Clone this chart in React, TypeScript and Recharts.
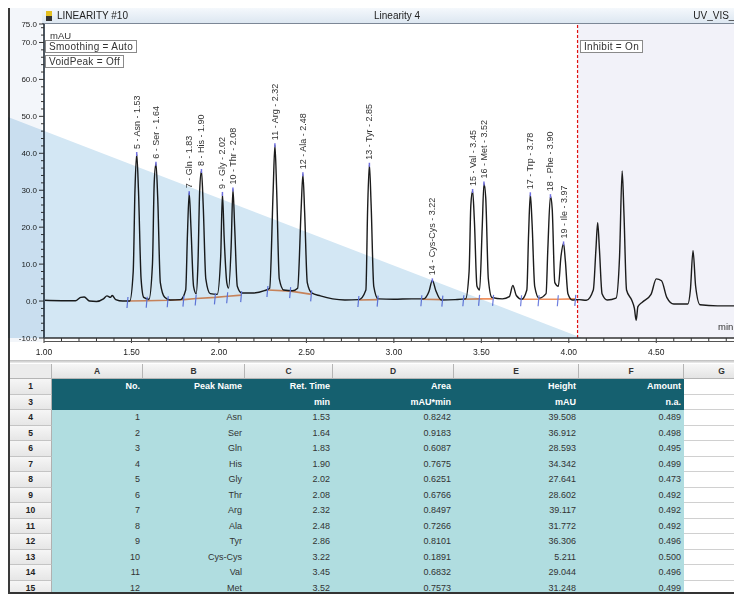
import React from "react"
import { ComposedChart, Line, XAxis, YAxis, ReferenceLine, ReferenceArea, Scatter } from "recharts"

// chromatogram trace (min / mAU)
const traceTime = [
  1.0, 1.1, 1.18, 1.21, 1.23, 1.26, 1.3, 1.34, 1.36, 1.38, 1.39, 1.41, 1.45, 1.49,
  1.51, 1.52, 1.53, 1.54, 1.555, 1.57, 1.6, 1.62, 1.63, 1.64, 1.65, 1.665, 1.69, 1.72,
  1.78, 1.81, 1.82, 1.83, 1.84, 1.855, 1.87, 1.88, 1.89, 1.9, 1.91, 1.925, 1.95, 1.99,
  2.01, 2.02, 2.03, 2.045, 2.055, 2.07, 2.08, 2.09, 2.105, 2.13, 2.2, 2.26, 2.29, 2.31,
  2.32, 2.33, 2.345, 2.37, 2.42, 2.45, 2.47, 2.48, 2.49, 2.505, 2.53, 2.58, 2.65, 2.72,
  2.8, 2.84, 2.85, 2.86, 2.87, 2.885, 2.91, 3.0, 3.1, 3.17, 3.2, 3.22, 3.24, 3.27, 3.35,
  3.41, 3.43, 3.44, 3.45, 3.46, 3.475, 3.49, 3.505, 3.515, 3.525, 3.54, 3.56, 3.62, 3.66,
  3.68, 3.7, 3.73, 3.76, 3.77, 3.78, 3.79, 3.805, 3.83, 3.87, 3.88, 3.895, 3.905, 3.92,
  3.94, 3.955, 3.97, 3.98, 3.995, 4.02, 4.06, 4.1, 4.14, 4.155, 4.165, 4.175, 4.19, 4.22,
  4.27, 4.29, 4.305, 4.315, 4.33, 4.36, 4.375, 4.385, 4.395, 4.42, 4.47, 4.5, 4.53, 4.56,
  4.6, 4.68, 4.695, 4.71, 4.725, 4.75, 4.85, 4.99,
]
const traceMAU = [
  0.2, 0.1, 0.1, 1.0, 1.1, 0.0, -0.1, 0.6, 1.4, 1.0, 1.5, 0.4, 0.0, 0.0,
  8, 30, 39.8, 30, 6, 1, 0.5, 10, 32, 37.2, 28, 5, 1, 0.3,
  0.4, 3, 18, 29.2, 20, 4, 2, 10, 30, 35.2, 26, 6, 2, 1.8,
  12, 29.0, 17, 5, 3.5, 15, 30.2, 20, 4, 2.2, 2.2, 2.8, 3.5, 30,
  42.2, 30, 6, 3.0, 2.8, 3.5, 25, 34.3, 24, 5, 2.2, 1.4, 0.6, 0.3,
  0.4, 3, 25, 36.9, 26, 4, 0.6, 0.5, 0.6, 0.6, 2.5, 5.6, 2.8, 0.3, 0.4,
  0.6, 8, 26, 29.8, 22, 4, 3, 20, 31.8, 28, 6, 1, 0.6, 1.2,
  4.2, 1.5, 0.5, 3, 18, 28.9, 21, 4, 0.8, 2, 14, 28.4, 25, 5,
  4, 12, 15.6, 11, 2, 0.3, 0.4, 0.2, 3, 14, 21.2, 14, 2, 0.3,
  0.8, 12, 35.2, 24, 3, 0.2, -2, -5.2, -1.5, -0.3, 1.8, 6.0, 5.5, 1,
  -0.8, -0.8, 3, 13.6, 4, -1, -1.3, -1.3,
]

// integration baseline segments (null = gap)
const baseTime = [1.48, 1.59, 1.71, 1.8, 1.87, 1.98, 2.05, 2.13, 2.2, 2.28, 2.41, 2.53, 2.6, 2.8, 2.91, 3.0, 3.16, 3.28, 3.34, 3.4, 3.49, 3.57, 3.65, 3.73, 3.83, 3.94, 4.04]
const baseMAU = [0.0, 0.1, 0.2, 0.4, 0.7, 1.0, 1.3, 1.6, null, 3.0, 2.7, 1.8, null, 0.3, 0.4, null, 0.5, 0.4, null, 0.5, 0.6, 0.6, null, 0.5, 0.5, 0.5, 0.6]

// peak annotations
const peakNo = [5, 6, 7, 8, 9, 10, 11, 12, 13, 14, 15, 16, 17, 18, 19]
const peakName = ["Asn", "Ser", "Gln", "His", "Gly", "Thr", "Arg", "Ala", "Tyr", "Cys-Cys", "Val", "Met", "Trp", "Phe", "Ile"]
const peakTime = [1.53, 1.64, 1.83, 1.9, 2.02, 2.08, 2.32, 2.48, 2.86, 3.22, 3.45, 3.515, 3.78, 3.895, 3.97]
const peakLabelTime = ["1.53", "1.64", "1.83", "1.90", "2.02", "2.08", "2.32", "2.48", "2.85", "3.22", "3.45", "3.52", "3.78", "3.90", "3.97"]
const peakApex = [39.8, 37.2, 29.2, 35.2, 29.0, 30.2, 42.2, 34.3, 36.9, 5.6, 29.8, 31.8, 28.9, 28.4, 15.6]

const xMajor = [1.0, 1.5, 2.0, 2.5, 3.0, 3.5, 4.0, 4.5]
const yMajor = [-10, 0, 10, 20, 30, 40, 50, 60, 70, 75]

// table
const colLetters = ["A", "B", "C", "D", "E", "F", "G"]
const rowLabels = ["1", "3", "4", "5", "6", "7", "8", "9", "10", "11", "12", "13", "14", "15"]
const headTop = ["No.", "Peak Name", "Ret. Time", "Area", "Height", "Amount"]
const headUnit = ["", "", "min", "mAU*min", "mAU", "n.a."]
const tabNo = ["1", "2", "3", "4", "5", "6", "7", "8", "9", "10", "11", "12"]
const tabName = ["Asn", "Ser", "Gln", "His", "Gly", "Thr", "Arg", "Ala", "Tyr", "Cys-Cys", "Val", "Met"]
const tabRet = ["1.53", "1.64", "1.83", "1.90", "2.02", "2.08", "2.32", "2.48", "2.86", "3.22", "3.45", "3.52"]
const tabArea = ["0.8242", "0.9183", "0.6087", "0.7675", "0.6251", "0.6766", "0.8497", "0.7266", "0.8101", "0.1891", "0.6832", "0.7573"]
const tabHeight = ["39.508", "36.912", "28.593", "34.342", "27.641", "28.602", "39.117", "31.772", "36.306", "5.211", "29.044", "31.248"]
const tabAmount = ["0.489", "0.498", "0.495", "0.499", "0.473", "0.492", "0.492", "0.492", "0.496", "0.500", "0.496", "0.499"]

const FONT = "'Liberation Sans', Arial, sans-serif"

const traceData = traceTime.map((t, i) => ({ t, v: traceMAU[i] }))
const baseData = baseTime.map((t, i) => ({ t, v: baseMAU[i] }))
const markData = baseData.filter((d) => d.v !== null)
const peakData = peakTime.map((t, i) => ({
  t,
  v: peakApex[i],
  label: `${peakNo[i]} - ${peakName[i]} - ${peakLabelTime[i]}`,
}))

const xTicks: number[] = []
for (let k = 10; k < 50; k++) xTicks.push(k / 10)
const yTicks: number[] = []
for (let k = -10; k <= 74; k += 2) yTicks.push(k)
yTicks.push(75)

function XTick(props: any) {
  const { x, y, payload } = props
  const v = payload.value
  const major = xMajor.some((m) => Math.abs(m - v) < 1e-6)
  return (
    <g>
      <line x1={x} x2={x} y1={y} y2={y + (major ? 5 : 3)} stroke="#333" />
      {major && (
        <text x={x} y={y + 17} textAnchor="middle" fontSize={8.5} fontFamily={FONT} fill="#222">
          {v.toFixed(2)}
        </text>
      )}
    </g>
  )
}

function YTick(props: any) {
  const { x, y, payload } = props
  const v = payload.value
  const major = yMajor.includes(v)
  return (
    <g>
      <line x1={x} x2={x - (major ? 5 : 3)} y1={y} y2={y} stroke="#333" />
      {major && (
        <text x={x - 7} y={y + 3} textAnchor="end" fontSize={8} fontFamily={FONT} fill="#222">
          {v.toFixed(1)}
        </text>
      )}
    </g>
  )
}

function PeakLabel(props: any) {
  const { cx, cy, payload } = props
  return (
    <g>
      <line x1={cx} x2={cx} y1={cy - 2} y2={cy + 2} stroke="#7070e0" strokeWidth={1.5} />
      <text
        transform={`translate(${cx + 3},${cy - 5}) rotate(-90)`}
        fontSize={9}
        fontFamily={FONT}
        fill="#333"
      >
        {payload.label}
      </text>
    </g>
  )
}

function BoundMark(props: any) {
  const { cx, cy } = props
  return <line x1={cx} x2={cx - 1} y1={cy - 4} y2={cy + 7} stroke="#6f7fe0" strokeWidth={1.2} />
}

function Box({ left, top, children }: { left: number; top: number; children: React.ReactNode }) {
  return (
    <div
      style={{
        position: "absolute",
        left,
        top,
        border: "1px solid #8a8a8a",
        background: "#fff",
        fontSize: 10,
        lineHeight: "11px",
        padding: "0 3px",
        color: "#333",
        letterSpacing: 0.3,
      }}
    >
      {children}
    </div>
  )
}

const colEdges = [10, 52, 143, 245, 333, 454, 579, 684, 760]
const tableTop = 364
const letterH = 15
const rowH = 15.5

function Table() {
  const cells: React.ReactNode[] = []
  // column letter row
  colLetters.forEach((c, i) => {
    cells.push(
      <div
        key={"L" + c}
        style={{
          position: "absolute",
          left: colEdges[i + 1],
          top: tableTop,
          width: colEdges[i + 2] - colEdges[i + 1] - 1,
          height: letterH - 1,
          background: "linear-gradient(#f7f7f7,#e4e4e4)",
          borderRight: "1px solid #b5b5b5",
          borderBottom: "1px solid #b5b5b5",
          textAlign: "center",
          fontWeight: "bold",
          fontSize: 8.5,
          lineHeight: `${letterH - 1}px`,
          color: "#333",
        }}
      >
        {c}
      </div>
    )
  })
  cells.push(
    <div
      key="corner"
      style={{
        position: "absolute",
        left: colEdges[0],
        top: tableTop,
        width: colEdges[1] - colEdges[0] - 1,
        height: letterH - 1,
        background: "#ececec",
        borderRight: "1px solid #b5b5b5",
        borderBottom: "1px solid #b5b5b5",
      }}
    />
  )
  rowLabels.forEach((r, ri) => {
    const top = tableTop + letterH + ri * rowH
    cells.push(
      <div
        key={"R" + r}
        style={{
          position: "absolute",
          left: colEdges[0],
          top,
          width: colEdges[1] - colEdges[0] - 1,
          height: rowH - 1,
          background: "linear-gradient(#f6f6f6,#e6e6e6)",
          borderRight: "1px solid #b0b0b0",
          borderBottom: "1px solid #c4c4c4",
          textAlign: "center",
          fontWeight: "bold",
          fontSize: 8.5,
          lineHeight: `${rowH - 1}px`,
          color: "#222",
        }}
      >
        {r}
      </div>
    )
    let values: string[]
    if (ri === 0) values = headTop
    else if (ri === 1) values = headUnit
    else {
      const k = ri - 2
      values = [tabNo[k], tabName[k], tabRet[k], tabArea[k], tabHeight[k], tabAmount[k]]
    }
    const header = ri < 2
    values.forEach((val, ci) => {
      cells.push(
        <div
          key={`c${ri}-${ci}`}
          style={{
            position: "absolute",
            left: colEdges[ci + 1],
            top,
            width: colEdges[ci + 2] - colEdges[ci + 1],
            height: rowH,
            background: header ? "#15606f" : "#b0dde0",
            color: header ? "#fff" : "#333",
            fontWeight: header ? "bold" : "normal",
            fontSize: 9,
            lineHeight: `${rowH}px`,
            textAlign: "right",
            paddingRight: 3,
            boxSizing: "border-box",
            whiteSpace: "nowrap",
          }}
        >
          {val}
        </div>
      )
    })
    cells.push(
      <div
        key={"G" + r}
        style={{
          position: "absolute",
          left: colEdges[7],
          top,
          width: colEdges[8] - colEdges[7],
          height: rowH - 1,
          background: "#fff",
          borderBottom: "1px solid #d0d0d0",
        }}
      />
    )
  })
  return <>{cells}</>
}

export default function App() {
  return (
    <div
      style={{
        position: "relative",
        left: -8,
        top: -8,
        width: 742,
        height: 594,
        overflow: "hidden",
        background: "#fff",
        fontFamily: FONT,
      }}
    >
      {/* window behind */}
      <div style={{ position: "absolute", left: 0, top: 0, width: 742, height: 8, background: "linear-gradient(90deg,#fff 35%,#e8e8e8 36%,#fafafa 45%,#fff)" }} />
      {[32, 60, 64, 70, 100, 104, 114, 124, 148, 158, 192, 216, 254].map((x) => (
        <div key={x} style={{ position: "absolute", left: x, top: 0, width: 1, height: 7, background: "#555" }} />
      ))}
      <div style={{ position: "absolute", left: 0, top: 62, width: 9, height: 18, background: "#e6e6e6" }} />
      <div style={{ position: "absolute", left: 0, top: 88, width: 9, height: 14, background: "#dadada" }} />
      <div style={{ position: "absolute", left: 0, top: 103, width: 9, height: 32, background: "#1f6f84" }} />
      <div style={{ position: "absolute", left: 0, top: 135, width: 9, height: 91, background: "#b9dfe7" }} />
      <div style={{ position: "absolute", left: 0, top: 226, width: 9, height: 74, background: "repeating-linear-gradient(#fff 0 14px,#c8c8c8 14px 15px)" }} />
      <div style={{ position: "absolute", left: 0, top: 300, width: 9, height: 1, background: "#333" }} />
      <div style={{ position: "absolute", left: 0, top: 332, width: 9, height: 262, background: "linear-gradient(#d8d8d8,#f2f2f2 20px,#f4f4f4)" }} />

      {/* front window */}
      <div style={{ position: "absolute", left: 8, top: 7, width: 734, height: 1, background: "#7c8796" }} />
      <div style={{ position: "absolute", left: 8, top: 7, width: 2, height: 587, background: "#3a3a3a" }} />
      <div style={{ position: "absolute", left: 10, top: 8, width: 32, height: 334, background: "#f3f6fa" }} />
      <div
        style={{
          position: "absolute",
          left: 42,
          top: 8,
          width: 700,
          height: 15,
          background: "linear-gradient(#f4f8fc,#dde7f1)",
          borderBottom: "1px solid #7c8796",
          fontSize: 10,
          lineHeight: "15px",
          color: "#222",
        }}
      >
        <div style={{ position: "absolute", left: 4, top: 3, width: 6, height: 10, background: "linear-gradient(#e5c020 50%,#333 50%)" }} />
        <span style={{ position: "absolute", left: 15 }}>LINEARITY #10</span>
        <span style={{ position: "absolute", left: 332 }}>Linearity 4</span>
        <span style={{ position: "absolute", right: 2 }}>UV_VIS_1</span>
      </div>

      <div style={{ position: "absolute", left: 10, top: 14 }}>
        <ComposedChart width={732} height={350} margin={{ top: 10, right: 0, left: 0, bottom: 0 }}>
          <XAxis
            dataKey="t"
            type="number"
            domain={[1, 4.99]}
            allowDataOverflow
            ticks={xTicks}
            interval={0}
            tick={<XTick />}
            tickLine={false}
            tickSize={0}
            tickMargin={0}
            height={26}
            axisLine={{ stroke: "#333", strokeWidth: 1.5 }}
          />
          <YAxis
            type="number"
            domain={[-10, 75]}
            allowDataOverflow
            ticks={yTicks}
            interval={0}
            tick={<YTick />}
            tickLine={false}
            tickSize={0}
            tickMargin={0}
            width={34}
            axisLine={{ stroke: "#4c5660", strokeWidth: 2 }}
          />
          <ReferenceArea x1={4.05} x2={4.99} y1={-10} y2={75} fill="#f2f2f9" fillOpacity={1} stroke="none" />
          <ReferenceLine x={4.05} stroke="#e01010" strokeDasharray="3 2" strokeWidth={1.2} />
          <Line
            data={baseData}
            dataKey="v"
            type="linear"
            stroke="#f0905e"
            strokeWidth={1.6}
            dot={false}
            connectNulls={false}
            isAnimationActive={false}
          />
          <Line
            data={traceData}
            dataKey="v"
            type="monotone"
            stroke="#1c1c1c"
            strokeWidth={1.4}
            dot={false}
            isAnimationActive={false}
          />
          <Scatter data={markData} dataKey="v" shape={<BoundMark />} isAnimationActive={false} />
          <Scatter data={peakData} dataKey="v" shape={<PeakLabel />} isAnimationActive={false} />
        </ComposedChart>
      </div>

      <div style={{ position: "absolute", left: 44, top: 341, width: 698, height: 1, background: "#555" }} />
      <div style={{ position: "absolute", left: 10, top: 360, width: 732, height: 3, background: "linear-gradient(#bbb,#eee)" }} />

      <div style={{ position: "absolute", left: 50, top: 30, fontSize: 9.5, color: "#333" }}>mAU</div>
      <Box left={45} top={40}>Smoothing = Auto</Box>
      <Box left={45} top={55}>VoidPeak = Off</Box>
      <Box left={580} top={40}>Inhibit = On</Box>
      <div style={{ position: "absolute", left: 718, top: 321, fontSize: 9.5, color: "#333" }}>min</div>

      <svg width={742} height={594} style={{ position: "absolute", left: 0, top: 0, mixBlendMode: "multiply", pointerEvents: "none" }}>
        <polygon points="0,114 582,338 0,338" fill="#d3e7f4" />
      </svg>

      <Table />
      <div style={{ position: "absolute", left: 10, top: 592, width: 732, height: 2, background: "#333" }} />
    </div>
  )
}
